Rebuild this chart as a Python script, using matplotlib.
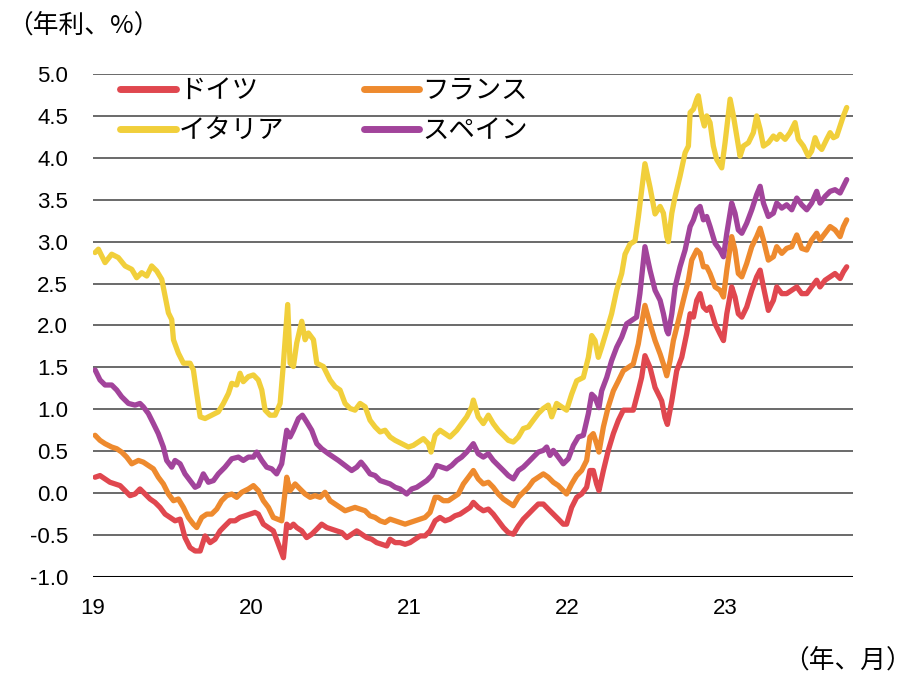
import matplotlib
matplotlib.use("Agg")
import matplotlib.pyplot as plt

plt.rcParams['font.family'] = ['Liberation Sans', 'Noto Sans CJK JP', 'DejaVu Sans']

# 10-year government bond yields (% p.a.), positions in decimal years
germany_t = [2019.013, 2019.044, 2019.076, 2019.107, 2019.139, 2019.171, 2019.203, 2019.234, 2019.266, 2019.297,
             2019.329, 2019.361, 2019.392, 2019.424, 2019.456, 2019.487, 2019.519, 2019.551, 2019.582, 2019.614,
             2019.646, 2019.678, 2019.709, 2019.741, 2019.772, 2019.804, 2019.835, 2019.867, 2019.899, 2019.930,
             2019.962, 2019.994, 2020.025, 2020.046, 2020.078, 2020.110, 2020.141, 2020.173, 2020.205, 2020.226,
             2020.247, 2020.268, 2020.289, 2020.321, 2020.352, 2020.384, 2020.416, 2020.447, 2020.479, 2020.511,
             2020.542, 2020.574, 2020.606, 2020.637, 2020.669, 2020.701, 2020.732, 2020.764, 2020.795, 2020.827,
             2020.859, 2020.880, 2020.912, 2020.943, 2020.975, 2021.006, 2021.038, 2021.070, 2021.101, 2021.133,
             2021.165, 2021.196, 2021.228, 2021.259, 2021.291, 2021.323, 2021.354, 2021.386, 2021.407, 2021.438,
             2021.470, 2021.502, 2021.533, 2021.565, 2021.597, 2021.628, 2021.660, 2021.692, 2021.723, 2021.755,
             2021.786, 2021.818, 2021.850, 2021.881, 2021.913, 2021.945, 2021.976, 2021.997, 2022.029, 2022.061,
             2022.092, 2022.124, 2022.145, 2022.166, 2022.187, 2022.202, 2022.230, 2022.261, 2022.293, 2022.325,
             2022.356, 2022.388, 2022.419, 2022.451, 2022.472, 2022.493, 2022.525, 2022.557, 2022.578, 2022.599,
             2022.620, 2022.635, 2022.663, 2022.694, 2022.726, 2022.757, 2022.779, 2022.800, 2022.821, 2022.842,
             2022.863, 2022.884, 2022.905, 2022.937, 2022.968, 2022.990, 2023.011, 2023.042, 2023.063, 2023.084,
             2023.106, 2023.137, 2023.169, 2023.200, 2023.222, 2023.243, 2023.274, 2023.306, 2023.327, 2023.359,
             2023.390, 2023.422, 2023.454, 2023.485, 2023.517, 2023.548, 2023.580, 2023.601, 2023.633, 2023.665,
             2023.696, 2023.728, 2023.749, 2023.770]
germany_y = [0.19, 0.21, 0.17, 0.13, 0.11, 0.09, 0.03, -0.03, -0.01, 0.05,
             -0.01, -0.07, -0.11, -0.17, -0.25, -0.29, -0.33, -0.31, -0.53, -0.65,
             -0.69, -0.69, -0.51, -0.59, -0.55, -0.45, -0.39, -0.33, -0.33, -0.29,
             -0.27, -0.25, -0.23, -0.25, -0.37, -0.41, -0.45, -0.61, -0.77, -0.37,
             -0.41, -0.37, -0.41, -0.45, -0.53, -0.49, -0.43, -0.37, -0.41, -0.43,
             -0.45, -0.47, -0.53, -0.49, -0.45, -0.49, -0.53, -0.55, -0.59, -0.61,
             -0.63, -0.55, -0.59, -0.59, -0.61, -0.59, -0.55, -0.51, -0.51, -0.45,
             -0.33, -0.29, -0.33, -0.31, -0.27, -0.25, -0.21, -0.17, -0.11, -0.17,
             -0.21, -0.19, -0.25, -0.33, -0.41, -0.47, -0.49, -0.39, -0.31, -0.25,
             -0.19, -0.13, -0.13, -0.19, -0.25, -0.31, -0.37, -0.37, -0.17, -0.05,
             -0.01, 0.07, 0.27, 0.27, 0.11, 0.03, 0.27, 0.51, 0.71, 0.87,
             0.99, 0.99, 0.99, 1.22, 1.38, 1.64, 1.50, 1.26, 1.18, 1.10,
             0.90, 0.82, 1.10, 1.46, 1.62, 1.90, 2.14, 2.10, 2.30, 2.38,
             2.22, 2.18, 2.22, 2.02, 1.90, 1.82, 2.14, 2.46, 2.34, 2.14,
             2.10, 2.22, 2.42, 2.58, 2.66, 2.46, 2.18, 2.30, 2.46, 2.38,
             2.38, 2.42, 2.46, 2.38, 2.38, 2.46, 2.54, 2.46, 2.54, 2.58,
             2.62, 2.56, 2.64, 2.70]

france_t = [2019.013, 2019.044, 2019.076, 2019.118, 2019.150, 2019.181, 2019.213, 2019.245, 2019.287, 2019.318,
            2019.350, 2019.382, 2019.413, 2019.445, 2019.477, 2019.509, 2019.540, 2019.572, 2019.603, 2019.635,
            2019.656, 2019.688, 2019.720, 2019.751, 2019.783, 2019.814, 2019.846, 2019.878, 2019.909, 2019.941,
            2019.983, 2020.015, 2020.046, 2020.078, 2020.110, 2020.141, 2020.194, 2020.226, 2020.247, 2020.279,
            2020.310, 2020.342, 2020.374, 2020.405, 2020.437, 2020.468, 2020.500, 2020.532, 2020.563, 2020.595,
            2020.627, 2020.658, 2020.690, 2020.722, 2020.753, 2020.785, 2020.817, 2020.848, 2020.880, 2020.912,
            2020.943, 2020.975, 2021.006, 2021.038, 2021.070, 2021.101, 2021.133, 2021.165, 2021.186, 2021.217,
            2021.249, 2021.281, 2021.312, 2021.344, 2021.376, 2021.407, 2021.438, 2021.470, 2021.502, 2021.533,
            2021.565, 2021.597, 2021.628, 2021.660, 2021.692, 2021.723, 2021.755, 2021.786, 2021.818, 2021.850,
            2021.881, 2021.913, 2021.945, 2021.976, 2021.997, 2022.029, 2022.061, 2022.092, 2022.124, 2022.145,
            2022.166, 2022.187, 2022.202, 2022.230, 2022.261, 2022.293, 2022.325, 2022.356, 2022.388, 2022.419,
            2022.451, 2022.472, 2022.493, 2022.525, 2022.557, 2022.589, 2022.610, 2022.631, 2022.652, 2022.673,
            2022.705, 2022.736, 2022.768, 2022.789, 2022.821, 2022.842, 2022.863, 2022.884, 2022.905, 2022.937,
            2022.968, 2022.990, 2023.011, 2023.042, 2023.063, 2023.084, 2023.106, 2023.137, 2023.169, 2023.200,
            2023.222, 2023.243, 2023.274, 2023.306, 2023.327, 2023.359, 2023.390, 2023.422, 2023.454, 2023.485,
            2023.517, 2023.548, 2023.580, 2023.601, 2023.633, 2023.665, 2023.696, 2023.728, 2023.749, 2023.770]
france_y = [0.69, 0.63, 0.59, 0.55, 0.53, 0.49, 0.43, 0.35, 0.39, 0.37,
            0.33, 0.29, 0.19, 0.11, -0.01, -0.09, -0.07, -0.17, -0.29, -0.37,
            -0.41, -0.29, -0.25, -0.25, -0.19, -0.09, -0.03, -0.01, -0.05, 0.01,
            0.05, 0.09, 0.03, -0.09, -0.17, -0.29, -0.33, 0.19, 0.03, 0.11,
            0.05, -0.01, -0.05, -0.03, -0.05, 0.01, -0.09, -0.13, -0.17, -0.21,
            -0.19, -0.17, -0.19, -0.21, -0.27, -0.29, -0.33, -0.35, -0.31, -0.33,
            -0.35, -0.37, -0.35, -0.33, -0.31, -0.29, -0.23, -0.05, -0.05, -0.09,
            -0.09, -0.05, -0.01, 0.11, 0.19, 0.27, 0.17, 0.11, 0.13, 0.07,
            -0.01, -0.07, -0.11, -0.15, -0.05, 0.01, 0.07, 0.15, 0.19, 0.23,
            0.19, 0.13, 0.09, 0.03, -0.01, 0.11, 0.21, 0.27, 0.39, 0.67,
            0.71, 0.59, 0.49, 0.79, 1.03, 1.22, 1.34, 1.46, 1.50, 1.54,
            1.78, 2.02, 2.24, 2.02, 1.82, 1.66, 1.54, 1.40, 1.58, 1.82,
            2.06, 2.30, 2.54, 2.78, 2.90, 2.86, 2.70, 2.70, 2.62, 2.46,
            2.42, 2.34, 2.66, 3.06, 2.90, 2.62, 2.58, 2.74, 2.94, 3.06,
            3.16, 3.02, 2.78, 2.82, 2.94, 2.86, 2.92, 2.94, 3.08, 2.92,
            2.90, 3.02, 3.10, 3.02, 3.10, 3.18, 3.14, 3.06, 3.18, 3.26]

italy_t = [2019.013, 2019.034, 2019.076, 2019.118, 2019.160, 2019.203, 2019.245, 2019.276, 2019.308, 2019.340,
           2019.371, 2019.403, 2019.435, 2019.456, 2019.477, 2019.498, 2019.509, 2019.540, 2019.572, 2019.614,
           2019.635, 2019.656, 2019.678, 2019.709, 2019.751, 2019.793, 2019.825, 2019.857, 2019.878, 2019.909,
           2019.930, 2019.951, 2019.983, 2020.015, 2020.046, 2020.068, 2020.089, 2020.120, 2020.152, 2020.184,
           2020.205, 2020.232, 2020.247, 2020.268, 2020.289, 2020.321, 2020.342, 2020.363, 2020.395, 2020.416,
           2020.458, 2020.500, 2020.532, 2020.563, 2020.595, 2020.627, 2020.658, 2020.690, 2020.722, 2020.753,
           2020.785, 2020.817, 2020.848, 2020.880, 2020.912, 2020.954, 2020.996, 2021.027, 2021.059, 2021.091,
           2021.122, 2021.139, 2021.165, 2021.196, 2021.228, 2021.259, 2021.302, 2021.333, 2021.365, 2021.397,
           2021.407, 2021.438, 2021.470, 2021.502, 2021.533, 2021.565, 2021.597, 2021.628, 2021.660, 2021.692,
           2021.723, 2021.755, 2021.786, 2021.818, 2021.850, 2021.881, 2021.903, 2021.934, 2021.966, 2021.997,
           2022.029, 2022.061, 2022.103, 2022.135, 2022.156, 2022.177, 2022.198, 2022.219, 2022.251, 2022.282,
           2022.314, 2022.346, 2022.367, 2022.398, 2022.430, 2022.451, 2022.472, 2022.493, 2022.525, 2022.557,
           2022.589, 2022.610, 2022.631, 2022.641, 2022.663, 2022.684, 2022.715, 2022.747, 2022.768, 2022.779,
           2022.800, 2022.821, 2022.831, 2022.852, 2022.869, 2022.884, 2022.905, 2022.926, 2022.947, 2022.979,
           2023.000, 2023.032, 2023.053, 2023.074, 2023.095, 2023.116, 2023.148, 2023.179, 2023.200, 2023.222,
           2023.243, 2023.274, 2023.306, 2023.327, 2023.348, 2023.380, 2023.411, 2023.443, 2023.464, 2023.496,
           2023.527, 2023.548, 2023.570, 2023.591, 2023.612, 2023.643, 2023.665, 2023.686, 2023.707, 2023.728,
           2023.749, 2023.770]
italy_y = [2.87, 2.91, 2.75, 2.85, 2.81, 2.71, 2.67, 2.57, 2.63, 2.59,
           2.71, 2.65, 2.55, 2.35, 2.15, 2.07, 1.83, 1.67, 1.55, 1.55,
           1.47, 1.19, 0.91, 0.89, 0.93, 0.97, 1.07, 1.19, 1.31, 1.29,
           1.43, 1.33, 1.39, 1.41, 1.35, 1.23, 0.99, 0.93, 0.93, 1.07,
           1.55, 2.25, 1.55, 1.51, 1.79, 2.05, 1.83, 1.91, 1.83, 1.55,
           1.51, 1.35, 1.27, 1.23, 1.07, 1.01, 0.99, 1.07, 1.03, 0.87,
           0.79, 0.73, 0.75, 0.67, 0.63, 0.59, 0.55, 0.57, 0.61, 0.65,
           0.59, 0.49, 0.69, 0.75, 0.71, 0.67, 0.75, 0.83, 0.91, 1.03,
           1.11, 0.91, 0.83, 0.93, 0.83, 0.75, 0.69, 0.63, 0.61, 0.67,
           0.77, 0.79, 0.87, 0.95, 1.01, 1.05, 0.91, 1.07, 1.03, 0.99,
           1.18, 1.34, 1.38, 1.62, 1.88, 1.82, 1.62, 1.74, 1.94, 2.14,
           2.42, 2.62, 2.85, 2.97, 3.01, 3.29, 3.61, 3.93, 3.65, 3.33,
           3.42, 3.34, 3.06, 3.00, 3.34, 3.54, 3.78, 4.06, 4.14, 4.54,
           4.58, 4.70, 4.74, 4.50, 4.38, 4.50, 4.42, 4.14, 3.98, 3.88,
           4.18, 4.70, 4.50, 4.26, 4.02, 4.14, 4.18, 4.30, 4.50, 4.34,
           4.14, 4.18, 4.26, 4.22, 4.28, 4.22, 4.30, 4.42, 4.22, 4.14,
           4.02, 4.08, 4.24, 4.14, 4.10, 4.22, 4.30, 4.24, 4.26, 4.38,
           4.50, 4.60]

spain_t = [2019.013, 2019.044, 2019.076, 2019.118, 2019.150, 2019.181, 2019.224, 2019.266, 2019.297, 2019.318,
           2019.350, 2019.382, 2019.413, 2019.445, 2019.466, 2019.498, 2019.519, 2019.551, 2019.582, 2019.614,
           2019.646, 2019.667, 2019.698, 2019.730, 2019.762, 2019.793, 2019.835, 2019.878, 2019.920, 2019.951,
           2019.983, 2020.015, 2020.036, 2020.068, 2020.099, 2020.131, 2020.162, 2020.194, 2020.226, 2020.247,
           2020.268, 2020.300, 2020.325, 2020.352, 2020.384, 2020.416, 2020.447, 2020.490, 2020.521, 2020.553,
           2020.595, 2020.637, 2020.669, 2020.696, 2020.722, 2020.753, 2020.785, 2020.817, 2020.848, 2020.880,
           2020.912, 2020.943, 2020.985, 2021.017, 2021.049, 2021.080, 2021.112, 2021.144, 2021.175, 2021.207,
           2021.239, 2021.270, 2021.302, 2021.333, 2021.365, 2021.407, 2021.438, 2021.470, 2021.502, 2021.533,
           2021.565, 2021.597, 2021.628, 2021.660, 2021.692, 2021.723, 2021.755, 2021.786, 2021.818, 2021.850,
           2021.871, 2021.892, 2021.913, 2021.945, 2021.976, 2022.008, 2022.040, 2022.071, 2022.103, 2022.135,
           2022.156, 2022.177, 2022.202, 2022.219, 2022.251, 2022.282, 2022.314, 2022.346, 2022.377, 2022.409,
           2022.440, 2022.461, 2022.493, 2022.525, 2022.557, 2022.589, 2022.610, 2022.631, 2022.641, 2022.663,
           2022.684, 2022.715, 2022.747, 2022.779, 2022.800, 2022.821, 2022.842, 2022.863, 2022.884, 2022.905,
           2022.937, 2022.968, 2022.990, 2023.011, 2023.042, 2023.063, 2023.084, 2023.106, 2023.137, 2023.169,
           2023.200, 2023.222, 2023.243, 2023.274, 2023.306, 2023.327, 2023.359, 2023.390, 2023.422, 2023.454,
           2023.485, 2023.517, 2023.548, 2023.580, 2023.601, 2023.633, 2023.665, 2023.696, 2023.728, 2023.749,
           2023.770]
spain_y = [1.47, 1.35, 1.29, 1.29, 1.23, 1.15, 1.07, 1.05, 1.07, 1.03,
           0.95, 0.83, 0.71, 0.55, 0.39, 0.31, 0.39, 0.35, 0.23, 0.15,
           0.07, 0.09, 0.23, 0.13, 0.15, 0.23, 0.31, 0.41, 0.43, 0.39,
           0.43, 0.43, 0.49, 0.39, 0.31, 0.29, 0.23, 0.35, 0.75, 0.67,
           0.75, 0.89, 0.93, 0.85, 0.75, 0.59, 0.53, 0.47, 0.43, 0.39,
           0.33, 0.27, 0.31, 0.37, 0.31, 0.23, 0.21, 0.15, 0.13, 0.11,
           0.07, 0.05, -0.01, 0.05, 0.07, 0.11, 0.15, 0.21, 0.33, 0.31,
           0.29, 0.33, 0.39, 0.43, 0.49, 0.59, 0.47, 0.43, 0.47, 0.39,
           0.33, 0.27, 0.21, 0.17, 0.27, 0.31, 0.37, 0.43, 0.49, 0.51,
           0.55, 0.45, 0.51, 0.43, 0.35, 0.41, 0.57, 0.67, 0.69, 0.95,
           1.18, 1.14, 1.02, 1.22, 1.38, 1.58, 1.74, 1.86, 2.02, 2.06,
           2.10, 2.38, 2.94, 2.66, 2.42, 2.30, 2.14, 1.94, 1.90, 2.14,
           2.46, 2.70, 2.90, 3.18, 3.26, 3.38, 3.42, 3.26, 3.30, 3.18,
           2.98, 2.90, 2.82, 3.10, 3.46, 3.34, 3.14, 3.10, 3.22, 3.38,
           3.56, 3.66, 3.46, 3.30, 3.34, 3.46, 3.40, 3.44, 3.38, 3.52,
           3.44, 3.38, 3.46, 3.60, 3.46, 3.54, 3.60, 3.62, 3.58, 3.66,
           3.74]

series_names = ['ドイツ', 'フランス', 'イタリア', 'スペイン']
series_colors = ['#E0474F', '#EE8A2E', '#F1CF3B', '#A2449B']

year_ticks = [2019, 2020, 2021, 2022, 2023]
year_labels = ['19', '20', '21', '22', '23']
y_ticks = [-1.0, -0.5, 0.0, 0.5, 1.0, 1.5, 2.0, 2.5, 3.0, 3.5, 4.0, 4.5, 5.0]

fig = plt.figure(figsize=(9.14, 6.80), dpi=100)
ax = fig.add_axes([0.1018, 0.1515, 0.8315, 0.7397])

data = [(germany_t, germany_y), (france_t, france_y), (italy_t, italy_y), (spain_t, spain_y)]
lines = []
for (t, y), name, color in zip(data, series_names, series_colors):
    ln, = ax.plot(t, y, color=color, lw=3.8, label=name, solid_joinstyle='round',
                  solid_capstyle='round', zorder=3)
    lines.append(ln)

ax.set_xlim(2019.0, 2023.81)
ax.set_ylim(-1.0, 5.0)
ax.set_yticks(y_ticks)
ax.set_yticklabels([f'{v:.1f}' for v in y_ticks])
ax.set_xticks(year_ticks)
ax.set_xticklabels(year_labels)

for v in y_ticks[1:]:
    ax.axhline(v, color='#505050', lw=1.2, zorder=1)
ax.axhline(-1.0, color='black', lw=2.2, zorder=2)

for s in ax.spines.values():
    s.set_visible(False)
ax.tick_params(axis='both', length=0, labelsize=16, colors='black')
ax.tick_params(axis='y', pad=18)
ax.tick_params(axis='x', pad=15)

order = [0, 2, 1, 3]
leg = ax.legend([lines[i] for i in order], [series_names[i] for i in order],
                ncol=2, loc='upper left', bbox_to_anchor=(0.036, 0.99),
                frameon=False, fontsize=19, handlelength=2.1, handletextpad=0.12,
                columnspacing=3.0, labelspacing=0.6, borderaxespad=0.0, borderpad=0.0)
for h in leg.get_lines():
    h.set_linewidth(5)

fig.text(0.008, 0.962, '（年利、%）', fontsize=18.5, ha='left', va='center',
         family=['Noto Sans CJK JP', 'Liberation Sans'])
fig.text(0.998, 0.028, '（年、月）', fontsize=18.5, ha='right', va='center',
         family=['Noto Sans CJK JP', 'Liberation Sans'])

fig.savefig('out.png', dpi=100, facecolor='white')
